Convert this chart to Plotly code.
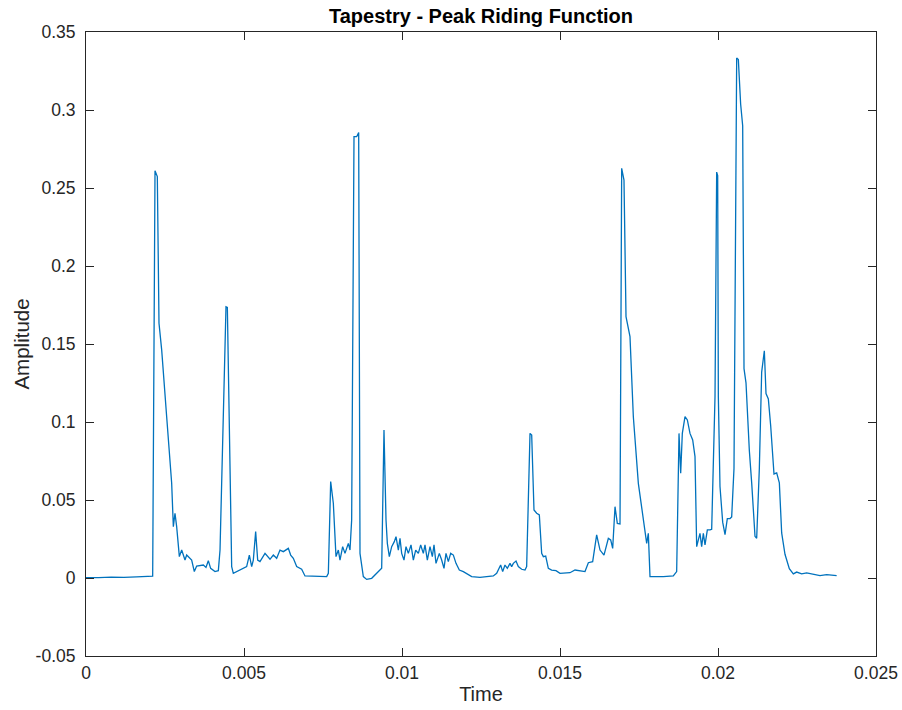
import plotly.graph_objects as go

# Peak riding envelope of the "Tapestry" recording (time in s, amplitude)
time_s = [
    0.0, 0.00040, 0.00080, 0.00120, 0.00160, 0.00200,
    0.002110, 0.002184, 0.002226, 0.002257, 0.002310, 0.002395, 0.002553, 0.002711,
    0.002764, 0.002816, 0.002869, 0.002954, 0.003028, 0.003133, 0.003186, 0.003344,
    0.003428, 0.003502, 0.003713, 0.003797, 0.003871, 0.003945, 0.004082, 0.004188,
    0.004241, 0.004430, 0.004473, 0.004610, 0.004662, 0.004821, 0.004979, 0.005084,
    0.005169, 0.005243, 0.005295, 0.005369, 0.005433, 0.005506, 0.005665, 0.005823,
    0.005928, 0.006034, 0.006139, 0.006245, 0.006403, 0.006477, 0.006561, 0.006667,
    0.006825, 0.006930, 0.007616,
    0.007669, 0.007743, 0.007827, 0.007911, 0.007985, 0.008038, 0.008122, 0.008196,
    0.008302, 0.008354, 0.008407, 0.008481, 0.008565, 0.008629, 0.008671, 0.008776,
    0.008882, 0.009040, 0.009198, 0.009357, 0.009430, 0.009494, 0.009536, 0.009599,
    0.009673, 0.009757, 0.009810, 0.009884, 0.009937, 0.009990, 0.010063, 0.010127,
    0.010200, 0.010285, 0.010359, 0.010433, 0.010517, 0.010591, 0.010675, 0.010728,
    0.010802, 0.010886, 0.010960, 0.011013, 0.011076, 0.011181, 0.011255, 0.011329,
    0.011392, 0.011466, 0.011540, 0.011625, 0.011709, 0.011814, 0.011941, 0.012046,
    0.012205, 0.012468, 0.012890, 0.012996,
    0.013081, 0.013122, 0.013186, 0.013259, 0.013333, 0.013418, 0.013470, 0.013523,
    0.013608, 0.013681, 0.013787, 0.013892, 0.013945, 0.014051, 0.014104, 0.014177,
    0.014262, 0.014346, 0.014420, 0.014473, 0.014547, 0.014631, 0.014736, 0.014873,
    0.015000, 0.015158, 0.015316, 0.015475, 0.015633, 0.015791, 0.015897, 0.016034,
    0.016160, 0.016266, 0.016392, 0.016530, 0.016604, 0.016667, 0.016741, 0.016814,
    0.016899,
    0.016952, 0.017025, 0.017089, 0.017215, 0.017321, 0.017479, 0.017690, 0.017743,
    0.017795, 0.017848, 0.018270, 0.018586, 0.018692, 0.018766, 0.018819, 0.018871,
    0.018956, 0.019030, 0.019114, 0.019199, 0.019272, 0.019325, 0.019378, 0.019430,
    0.019483, 0.019536, 0.019589, 0.019663, 0.019747,
    0.019800, 0.019905, 0.019958, 0.019990, 0.020011, 0.020063, 0.020148, 0.020222,
    0.020295, 0.020380, 0.020433, 0.020506, 0.020559, 0.020591, 0.020644, 0.020717,
    0.020781, 0.020823, 0.020886, 0.020992, 0.021066, 0.021171, 0.021224, 0.021308,
    0.021382, 0.021466, 0.021519, 0.021593, 0.021667, 0.021772, 0.021857, 0.021941,
    0.022015, 0.022120, 0.022257, 0.022384, 0.022489, 0.022648, 0.022806, 0.023017,
    0.023228, 0.023439, 0.023755,
]

amplitude = [
    0.0003, 0.0002, 0.0006, 0.0004, 0.0007, 0.0009,
    0.0012, 0.2611, 0.2594, 0.2573, 0.1633, 0.1462, 0.1034, 0.0607,
    0.0329, 0.0415, 0.0329, 0.0137, 0.0179, 0.0115, 0.0147, 0.0115,
    0.0041, 0.0077, 0.0083, 0.0068, 0.0111, 0.0062, 0.0041, 0.0047,
    0.0179, 0.1739, 0.1735, 0.0073, 0.0030, 0.0047, 0.0062, 0.0073,
    0.0147, 0.0073, 0.0115, 0.0297, 0.0115, 0.0105, 0.0158, 0.0120,
    0.0147, 0.0126, 0.0179, 0.0169, 0.0190, 0.0147, 0.0126, 0.0073,
    0.0056, 0.0013, 0.0009,
    0.0030, 0.0618, 0.0479, 0.0137, 0.0179, 0.0115, 0.0201, 0.0158,
    0.0222, 0.0179, 0.0372, 0.2829, 0.2829, 0.2855, 0.0158, 0.0009,
    -0.0009, -0.0002, 0.0030, 0.0062, 0.0949, 0.0372, 0.0222, 0.0137,
    0.0201, 0.0233, 0.0265, 0.0179, 0.0254, 0.0158, 0.0115, 0.0201,
    0.0158, 0.0212, 0.0115, 0.0179, 0.0158, 0.0212, 0.0158, 0.0212,
    0.0115, 0.0201, 0.0137, 0.0212, 0.0094, 0.0158, 0.0115, 0.0062,
    0.0158, 0.0105, 0.0158, 0.0147, 0.0094, 0.0051, 0.0041, 0.0030,
    0.0009, 0.0004, 0.0013, 0.0030,
    0.0073, 0.0083, 0.0041, 0.0083, 0.0062, 0.0094, 0.0073, 0.0094,
    0.0109, 0.0073, 0.0056, 0.0051, 0.0073, 0.0927, 0.0917, 0.0436,
    0.0415, 0.0404, 0.0158, 0.0137, 0.0141, 0.0062, 0.0051, 0.0047,
    0.0030, 0.0034, 0.0034, 0.0051, 0.0047, 0.0041, 0.0098, 0.0105,
    0.0276, 0.0179, 0.0147, 0.0254, 0.0244, 0.0190, 0.0457, 0.0350,
    0.0346,
    0.2626, 0.2551, 0.1675, 0.1547, 0.1034, 0.0607, 0.0286, 0.0222,
    0.0286, 0.0009, 0.0009, 0.0013, 0.0041, 0.0927, 0.0671, 0.0927,
    0.1034, 0.1013, 0.0927, 0.0885, 0.0778, 0.0201, 0.0244, 0.0286,
    0.0201, 0.0286, 0.0212, 0.0308, 0.0308,
    0.0312, 0.1160, 0.2602, 0.2579, 0.1160, 0.0587, 0.0358, 0.0278,
    0.0381, 0.0381, 0.0392, 0.0701, 0.2075, 0.3334, 0.3323, 0.3037,
    0.2899, 0.1342, 0.1251, 0.0816, 0.0610, 0.0267, 0.0255, 0.0701,
    0.1320, 0.1457, 0.1182, 0.1148, 0.0976, 0.0667, 0.0674, 0.0610,
    0.0289, 0.0152, 0.0060, 0.0026, 0.0038, 0.0026, 0.0033, 0.0026,
    0.0015, 0.0022, 0.0015,
]

x_ticks = [0, 0.005, 0.01, 0.015, 0.02, 0.025]
x_tick_labels = ["0", "0.005", "0.01", "0.015", "0.02", "0.025"]
y_ticks = [-0.05, 0, 0.05, 0.1, 0.15, 0.2, 0.25, 0.3, 0.35]
y_tick_labels = ["-0.05", "0", "0.05", "0.1", "0.15", "0.2", "0.25", "0.3", "0.35"]

AXIS_COLOR = "#262626"
FONT = "Liberation Sans, Arial, Helvetica, sans-serif"

fig = go.Figure()
fig.add_trace(go.Scatter(
    x=time_s, y=amplitude, mode="lines",
    line=dict(color="#0072BD", width=1.3),
    hoverinfo="x+y", showlegend=False,
))

axis_common = dict(
    showgrid=False, zeroline=False, automargin=False,
    showline=True, linecolor=AXIS_COLOR, linewidth=1,
    mirror="allticks", ticks="inside", ticklen=8, tickwidth=1,
    tickcolor=AXIS_COLOR,
    tickfont=dict(family=FONT, size=17.5, color=AXIS_COLOR),
)

fig.update_xaxes(
    range=[0, 0.025], tickmode="array", tickvals=x_ticks, ticktext=x_tick_labels,
    ticklabelstandoff=1,
    title=dict(text="Time", font=dict(family=FONT, size=20, color=AXIS_COLOR), standoff=4),
    **axis_common,
)
fig.update_yaxes(
    range=[-0.05, 0.35], tickmode="array", tickvals=y_ticks, ticktext=y_tick_labels,
    ticklabelstandoff=6,
    title=dict(text="Amplitude", font=dict(family=FONT, size=20.5, color=AXIS_COLOR), standoff=0),
    **axis_common,
)

fig.update_layout(
    width=902, height=710,
    margin=dict(l=86, r=26, t=32, b=54),
    paper_bgcolor="white", plot_bgcolor="white",
    title=dict(
        text="<b>Tapestry - Peak Riding Function</b>",
        font=dict(family=FONT, size=20, color="#000000"),
        x=(86 + 876) / 2 / 902, xanchor="center", y=1 - 16 / 710, yanchor="middle",
    ),
    font=dict(family=FONT),
)

fig.write_html("out.html")
